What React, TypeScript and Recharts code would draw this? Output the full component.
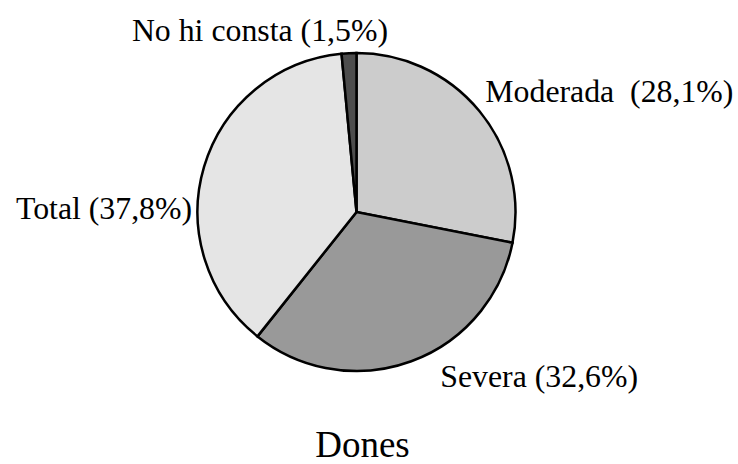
import { PieChart, Pie, Cell } from "recharts";

const categories = ["Moderada", "Severa", "Total", "No hi consta"];
const percents = [28.1, 32.6, 37.8, 1.5];
const colors = ["#cccccc", "#999999", "#e5e5e5", "#4d4d4d"];
// label separators (the original has a double space after Moderada)
const separators = ["  ", " ", " ", " "];
// label placement relative to the slice's outer mid point
const labelOffsets = [
  { dx: 6, dy: -9, anchor: "start" },
  { dx: 29, dy: 26, anchor: "start" },
  { dx: -12, dy: 52, anchor: "end" },
  { dx: 39, dy: -12, anchor: "end" },
];
const title = "Dones";

const data = categories.map((name, i) => ({ name, value: percents[i] }));

const FONT = "'Liberation Serif', 'Times New Roman', serif";

const RADIAN = Math.PI / 180;

function renderLabel(props: any) {
  const { cx, cy, midAngle, outerRadius, index } = props;
  const x = cx + outerRadius * Math.cos(-midAngle * RADIAN);
  const y = cy + outerRadius * Math.sin(-midAngle * RADIAN);
  const off = labelOffsets[index];
  const pct = percents[index].toFixed(1).replace(".", ",");
  return (
    <text
      x={x + off.dx}
      y={y + off.dy}
      textAnchor={off.anchor}
      fill="#000"
      fontFamily={FONT}
      fontSize={31.8}
      style={{ whiteSpace: "pre" }}
    >
      {`${categories[index]}${separators[index]}(${pct}%)`}
    </text>
  );
}

export default function App() {
  return (
    <div
      style={{
        position: "absolute",
        left: 0,
        top: 0,
        width: 738,
        height: 464,
        background: "#fff",
      }}
    >
      <PieChart width={738} height={464} margin={{ top: 0, right: 0, bottom: 0, left: 0 }}>
        <Pie
          data={data}
          dataKey="value"
          nameKey="name"
          cx={356.5}
          cy={212}
          outerRadius={159}
          startAngle={90}
          endAngle={-270}
          stroke="#000"
          strokeWidth={2.5}
          label={renderLabel}
          labelLine={false}
          isAnimationActive={false}
        >
          {data.map((entry, i) => (
            <Cell key={`cell-${i}`} fill={colors[i]} />
          ))}
        </Pie>
      </PieChart>
      <div
        style={{
          position: "absolute",
          left: 0,
          width: 725,
          top: 426,
          textAlign: "center",
          fontFamily: FONT,
          fontSize: 37,
          lineHeight: "37px",
          color: "#000",
        }}
      >
        {title}
      </div>
    </div>
  );
}
